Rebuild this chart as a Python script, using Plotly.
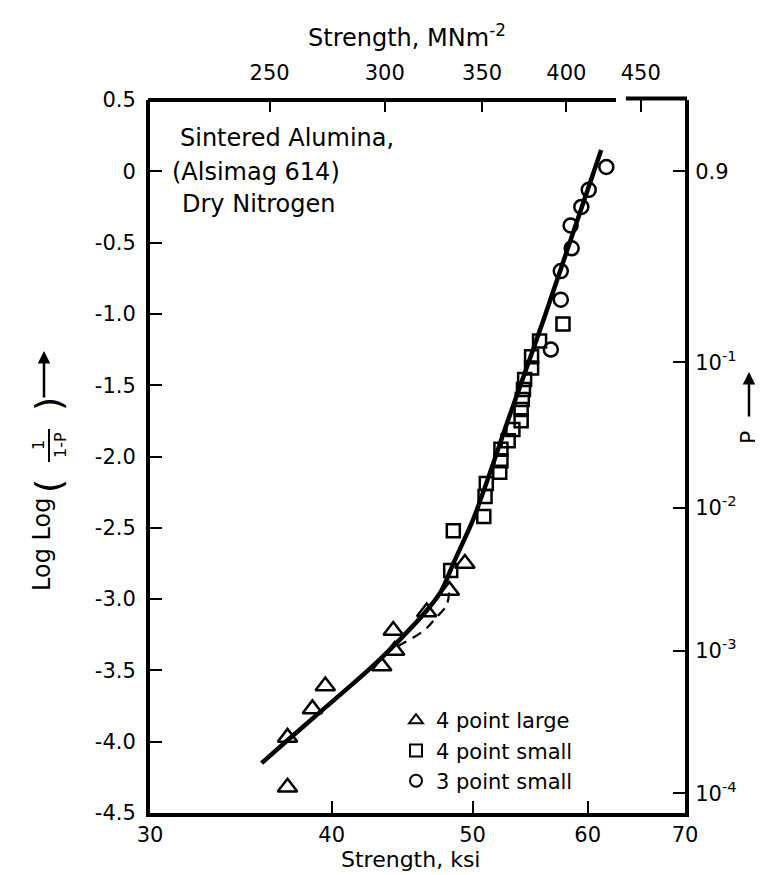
import numpy as np
import plotly.graph_objects as go

# ---------------- data ----------------
tri_x = [37.3, 37.3, 38.8, 39.6, 43.3, 44.2, 44.1, 46.5, 48.2, 49.4]
tri_y = [-4.32, -3.97, -3.77, -3.61, -3.47, -3.36, -3.22, -3.09, -2.94, -2.75]

sq_x = [48.5, 48.3, 50.9, 51.0, 51.1, 52.2, 52.3, 52.3, 52.9, 53.3,
        54.0, 54.0, 54.1, 54.2, 54.3, 54.9, 54.9, 55.6, 57.7]
sq_y = [-2.52, -2.80, -2.42, -2.28, -2.19, -2.11, -2.03, -1.95, -1.89, -1.81,
        -1.75, -1.67, -1.60, -1.53, -1.46, -1.38, -1.30, -1.19, -1.07]

circ_x = [56.6, 57.5, 57.5, 58.5, 58.4, 59.4, 60.1, 61.8]
circ_y = [-1.25, -0.90, -0.70, -0.54, -0.38, -0.25, -0.13, 0.03]

fit_x = [35.8, 37.3, 39.5, 41.3, 43.0, 44.7, 46.5, 47.6, 48.6, 50.1, 53.0, 56.0, 61.3]
fit_y = [-4.15, -3.99, -3.77, -3.60, -3.44, -3.27, -3.08, -2.94, -2.73, -2.43, -1.72, -1.03, 0.15]

dash_x = [44.4, 46.3, 47.2, 48.0, 48.2]
dash_y = [-3.33, -3.22, -3.13, -3.04, -2.92]

ksi_ticks = [30, 40, 50, 60, 70]
loglog_ticks = [0.5, 0, -0.5, -1.0, -1.5, -2.0, -2.5, -3.0, -3.5, -4.0, -4.5]
loglog_labels = ["0.5", "0", "-0.5", "-1.0", "-1.5", "-2.0", "-2.5", "-3.0", "-3.5", "-4.0", "-4.5"]
mpa_ticks = [250, 300, 350, 400, 450]
p_ticks = [0.9, 1e-1, 1e-2, 1e-3, 1e-4]
p_labels = ["0.9", "10<sup>-1</sup>", "10<sup>-2</sup>", "10<sup>-3</sup>", "10<sup>-4</sup>"]

MPA_PER_KSI = 6.894757
FONT = "DejaVu Sans"
BLACK = "#000000"

# ---------------- figure ----------------
W, H = 763, 875
L, R, T, B = 142, 677, 92, 805
fig = go.Figure()

fig.add_trace(go.Scatter(x=fit_x, y=fit_y, mode="lines",
                         line=dict(color=BLACK, width=4.5, shape="spline", smoothing=0.8),
                         showlegend=False, hoverinfo="skip"))
fig.add_trace(go.Scatter(x=dash_x, y=dash_y, mode="lines",
                         line=dict(color=BLACK, width=2.2, dash="10px,7px", shape="spline"),
                         showlegend=False, hoverinfo="skip"))
fig.add_trace(go.Scatter(x=tri_x, y=tri_y, mode="markers", name="4 point large",
                         marker=dict(symbol="triangle-up-open", size=17, color=BLACK, line=dict(width=2.5, color=BLACK))))
fig.add_trace(go.Scatter(x=sq_x, y=sq_y, mode="markers", name="4 point small",
                         marker=dict(symbol="square-open", size=13, color=BLACK, line=dict(width=2.5, color=BLACK))))
fig.add_trace(go.Scatter(x=circ_x, y=circ_y, mode="markers", name="3 point small",
                         marker=dict(symbol="circle-open", size=14, color=BLACK, line=dict(width=2.5, color=BLACK))))
# invisible traces to activate secondary axes
fig.add_trace(go.Scatter(x=[ksi_ticks[0]], y=[loglog_ticks[-1]], xaxis="x2", yaxis="y", mode="markers",
                         marker=dict(opacity=0), showlegend=False, hoverinfo="skip"))
fig.add_trace(go.Scatter(x=[ksi_ticks[0]], y=[loglog_ticks[-1]], xaxis="x", yaxis="y2", mode="markers",
                         marker=dict(opacity=0), showlegend=False, hoverinfo="skip"))

xr = [np.log10(ksi_ticks[0]) - 1e-6, np.log10(ksi_ticks[-1]) + 1e-6]
yr = [loglog_ticks[-1], loglog_ticks[0]]

tickfont = dict(family=FONT, size=21, color=BLACK)
common = dict(ticks="inside", ticklen=12, tickwidth=2, tickcolor=BLACK, tickfont=tickfont,
              showgrid=False, zeroline=False)
fig.update_layout(
    width=W, height=H,
    margin=dict(l=L, r=W - R, t=T, b=H - B),
    paper_bgcolor="white", plot_bgcolor="white",
    font=dict(family=FONT, color=BLACK),
    xaxis=dict(type="log", range=xr, tickvals=ksi_ticks, ticktext=[str(v) for v in ksi_ticks],
               showline=True, linewidth=4, linecolor=BLACK, ticklabelstandoff=0, **common),
    xaxis2=dict(type="log", range=xr, overlaying="x", side="top",
                tickvals=[m / MPA_PER_KSI for m in mpa_ticks], ticktext=[str(m) for m in mpa_ticks],
                showline=False, ticklabelstandoff=15, **common),
    yaxis=dict(range=yr, tickvals=loglog_ticks, ticktext=loglog_labels,
               showline=True, linewidth=4, linecolor=BLACK, ticklabelstandoff=6, **common),
    yaxis2=dict(range=yr, overlaying="y", side="right",
                tickvals=[np.log10(np.log10(1.0 / (1.0 - p))) for p in p_ticks], ticktext=p_labels,
                showline=True, linewidth=4, linecolor=BLACK, ticklabelstandoff=2, **common),
    legend=dict(x=(388 - L) / (R - L), y=(B - 692) / (B - T), xanchor="left", yanchor="top",
                font=dict(family=FONT, size=21, color=BLACK), bgcolor="rgba(0,0,0,0)",
                itemsizing="constant", tracegroupgap=0),
    showlegend=True,
)

def px(xp):
    return (xp - L) / (R - L)

def py(yp):
    return (B - yp) / (B - T)

# top border with a break
fig.add_shape(type="line", xref="paper", yref="paper", x0=px(L - 2), x1=px(608), y0=1, y1=1,
              line=dict(color=BLACK, width=4))
fig.add_shape(type="line", xref="paper", yref="paper", x0=px(618), x1=px(R + 2), y0=py(T - 1.5), y1=py(T - 1.5),
              line=dict(color=BLACK, width=4))

ann = []
def txt(s, x, y, size=20, angle=0, xanchor="center", yanchor="middle"):
    ann.append(dict(text=s, x=px(x), y=py(y), xref="paper", yref="paper", showarrow=False,
                    textangle=angle, xanchor=xanchor, yanchor=yanchor,
                    font=dict(family=FONT, size=size, color=BLACK)))

txt("Sintered Alumina,", 170, 130, 24, xanchor="left")
txt("(Alsimag 614)", 162, 164, 24, xanchor="left")
txt("Dry Nitrogen", 172, 196, 24, xanchor="left")

txt("Strength, ksi", 402, 851, 22)
txt("Strength, MNm<sup>-2</sup>", 399, 28, 24)

# left axis title: Log Log (1/(1-P)) with arrow
txt("Log Log", 34, 537, 24, angle=-90)
txt("(", 40, 478, 36, angle=-90)
txt("1", 30, 437, 16, angle=-90)
txt("1-P", 52, 437, 16, angle=-90)
txt(")", 40, 396, 36, angle=-90)
fig.add_shape(type="line", xref="paper", yref="paper", x0=px(41), x1=px(41), y0=py(421), y1=py(454),
              line=dict(color=BLACK, width=2))
ann.append(dict(x=px(36), y=py(343), xref="paper", yref="paper", ax=0, ay=48, showarrow=True,
                arrowhead=2, arrowsize=1, arrowwidth=2.5, arrowcolor=BLACK, text=""))

# right axis title: P with arrow
txt("P", 740, 430, 22, angle=-90)
ann.append(dict(x=px(741), y=py(364), xref="paper", yref="paper", ax=0, ay=46, showarrow=True,
                arrowhead=2, arrowsize=1, arrowwidth=2.5, arrowcolor=BLACK, text=""))

fig.update_layout(annotations=ann)
fig.write_html("out.html")
